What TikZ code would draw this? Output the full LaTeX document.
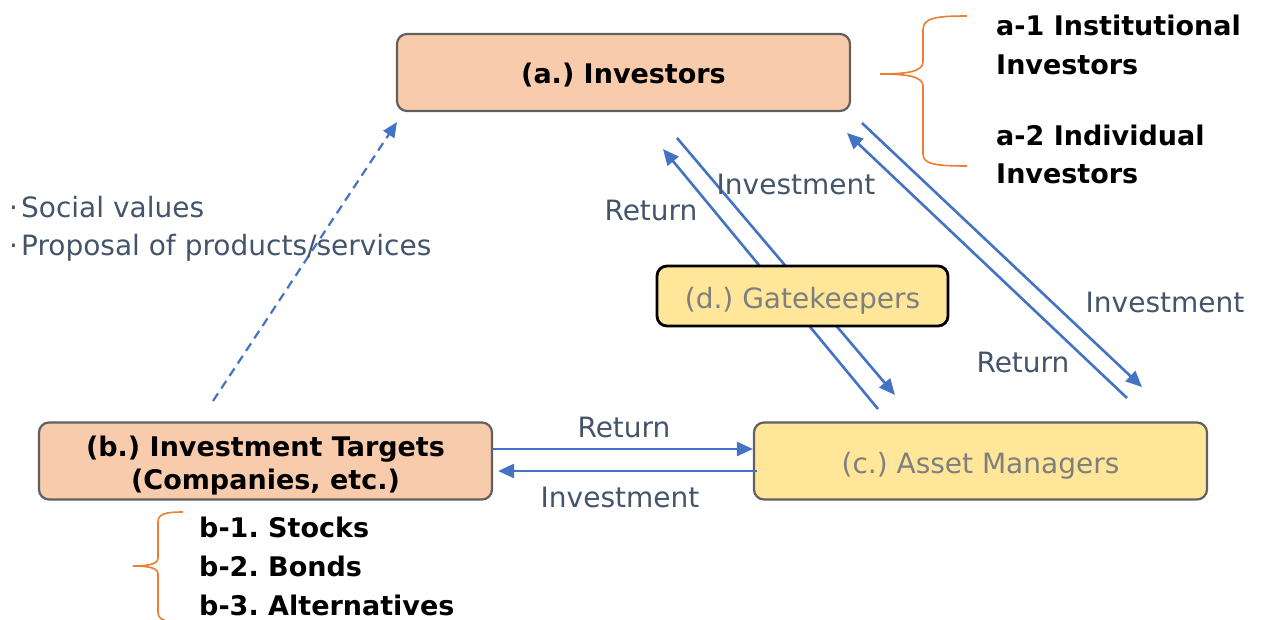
\documentclass[tikz,border=0pt]{standalone}
\usepackage{fontspec}
\setmainfont{DejaVu Sans}
\usetikzlibrary{arrows.meta}
\frenchspacing
\definecolor{peach}{HTML}{F8CBAD}
\definecolor{sand}{HTML}{FFE699}
\definecolor{edgegray}{HTML}{606060}
\definecolor{flowblue}{HTML}{4472C4}
\definecolor{slate}{HTML}{44546A}
\definecolor{mutedgray}{HTML}{7F7F7F}
\definecolor{bracecol}{HTML}{ED7D31}
\tikzset{
  regtext/.style={font=\fontsize{28}{38}\selectfont},
  boldtext/.style={font=\bfseries\fontsize{27}{38.5}\selectfont},
  actor/.style={rectangle, rounded corners=10pt, draw=edgegray, line width=2.2pt,
    minimum width=453pt, minimum height=77pt, inner sep=0pt, align=center},
  peachbox/.style={actor, fill=peach, font=\bfseries\fontsize{27}{33}\selectfont},
  sandbox/.style={actor, fill=sand, regtext, text=mutedgray},
  flow/.style={draw=flowblue, line width=2.6pt, -{Triangle[length=16pt,width=14pt]}},
  flowlabel/.style={regtext, text=slate, inner sep=0pt},
  listtext/.style={boldtext, align=left, inner sep=0pt, anchor=west},
  bracepath/.style={draw=bracecol, line width=1.6pt},
}
\begin{document}
\begin{tikzpicture}[x=1pt,y=-1pt]
\useasboundingbox (0,0) rectangle (1262,619);

% main parties
\node[peachbox, text height=26.5pt] (a) at (623.5,72.5) {(a.) Investors};
\node[peachbox, text height=62.5pt] (b) at (265.5,461) {(b.) Investment Targets\\(Companies, etc.)};
\node[sandbox, text height=31pt] (c) at (980.5,461) {(c.) Asset Managers};

% flows between targets and asset managers
\draw[flow] ([yshift=12pt]b.east) -- ([yshift=12pt]c.west);
\draw[flow] ([yshift=-10pt,xshift=4pt]c.west) -- ([yshift=-10pt,xshift=5pt]b.east);
\node[flowlabel] (rb) at (624,427) {Return};
\node[flowlabel] (ib) at (620,497) {Investment};

% flows through the gatekeepers (the box is drawn on top of them)
\coordinate (gi1) at (677,138);
\coordinate (gi2) at (895,395);
\coordinate (gr1) at (878,409);
\coordinate (gr2) at (663,149);
\draw[flow] (gi1) -- (gi2);
\draw[flow] (gr1) -- (gr2);
\node[flowlabel] (ig) at (796,184) {Investment};
\node[flowlabel] (rg) at (651,210) {Return};
\node[sandbox, draw=black, line width=2.8pt, minimum width=291pt, minimum height=60pt,
  text height=31pt] (d) at (802.5,296) {(d.) Gatekeepers};

% direct flows between investors and asset managers
\coordinate (di1) at (862,123);
\coordinate (di2) at (1142,387);
\coordinate (dr1) at (1127,398);
\coordinate (dr2) at (847,133);
\draw[flow] (di1) -- (di2);
\draw[flow] (dr1) -- (dr2);
\node[flowlabel] (id) at (1165,302) {Investment};
\node[flowlabel] (rd) at (1023,362) {Return};

% proposals from targets to investors
\coordinate (pv) at (213,401);
\draw[flow, line width=2.2pt, dash pattern=on 9pt off 6pt, -{Triangle[length=15pt,width=13pt]}] (pv) -- (397,122);
\node[regtext, text=slate, inner sep=0pt, anchor=west, align=left] (sv) at (9,229)
  {·\kern3pt Social values\\·\kern3pt Proposal of products/services};

% investor categories
\draw[bracepath] (967,16) .. controls (935,16) and (923,18) .. (923,30) -- (923,62)
  .. controls (923,72) and (905,74) .. (880,74)
  .. controls (905,74) and (923,76) .. (923,86) -- (923,154)
  .. controls (923,164) and (935,166) .. (967,166);
\node[listtext] (a1) at (996,45) {a-1 Institutional\\Investors};
\node[listtext] (a2) at (996,154.5) {a-2 Individual\\Investors};

% investment target categories
\draw[bracepath] (183,512) .. controls (165,512) and (158,514) .. (158,522) -- (158,558)
  .. controls (158,565) and (145,566) .. (133,566)
  .. controls (145,566) and (158,567) .. (158,574) -- (158,612)
  .. controls (158,620) and (165,622) .. (183,622);
\node[listtext, font=\bfseries\fontsize{27}{39}\selectfont] (bl) at (199,566) {b-1. Stocks\\b-2. Bonds\\b-3. Alternatives};
\end{tikzpicture}
\end{document}
